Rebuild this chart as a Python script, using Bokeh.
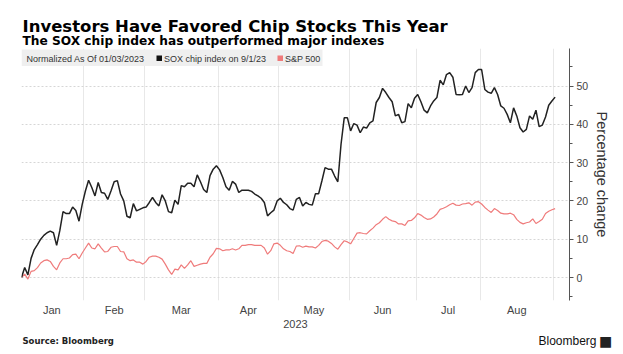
from bokeh.plotting import figure
from bokeh.layouts import column
from bokeh.models import FixedTicker, SingleIntervalTicker, Label, BoxAnnotation, Range1d
from bokeh.embed import file_html
from bokeh.resources import INLINE

# ---------------- data ----------------
months = ["Jan", "Feb", "Mar", "Apr", "May", "Jun", "Jul", "Aug"]
# index (trading day since 01/03/2023) of first trading day of each month, last = Sep 1
month_start_idx = [0, 20, 39, 62, 81, 103, 124, 144, 167]
year_label = "2023"

sox = [0.0, 2.6, 0.7, 5.0, 7.3, 8.6, 10.0, 11.0, 11.7, 12.1,
       11.7, 8.4, 12.3, 17.2, 16.7, 16.7, 18.4, 17.5, 14.7, 19.1,
       22.6, 25.4, 23.5, 21.3, 24.8, 22.2, 22.0, 20.4, 22.6, 25.0,
       25.3, 21.8, 20.0, 16.0, 15.6, 19.3, 17.4, 17.8, 18.2, 18.4,
       19.6, 20.9, 19.6, 18.7, 21.6, 20.0, 17.2, 16.9, 20.2, 19.1,
       24.0, 23.7, 24.6, 24.6, 23.7, 26.8, 25.0, 23.0, 22.2, 26.6,
       28.3, 29.2, 28.1, 26.1, 23.7, 22.8, 25.1, 24.4, 22.2, 22.8,
       22.8, 22.8, 22.5, 21.8, 21.3, 20.7, 19.6, 16.1, 16.9, 17.6,
       20.0, 20.7, 19.6, 19.0, 18.0, 17.6, 20.4, 20.9, 18.7, 19.6,
       19.1, 18.9, 21.9, 21.9, 25.2, 28.7, 28.3, 28.3, 26.5, 25.0,
       34.8, 41.7, 41.7, 38.3, 40.2, 39.8, 37.8, 39.3, 39.0, 40.4,
       40.9, 45.7, 47.0, 49.4, 48.3, 47.0, 45.9, 42.2, 42.6, 40.4,
       40.7, 45.4, 44.3, 46.8, 47.8, 45.9, 43.7, 43.0, 44.8, 46.1,
       47.0, 51.5, 50.3, 53.0, 53.5, 52.3, 47.8, 47.7, 47.8, 50.0,
       48.3, 49.6, 53.5, 54.3, 54.3, 49.1, 48.4, 48.1, 49.6, 47.8,
       44.8, 44.2, 42.6, 40.4, 44.3, 42.2, 39.1, 38.0, 38.7, 42.2,
       41.3, 43.7, 39.4, 39.8, 41.9, 45.0, 46.1, 47.1]

spx = [0.0, 0.9, -0.4, 1.6, 1.8, 2.6, 3.8, 4.4, 4.6, 4.2,
       2.9, 2.0, 3.8, 4.9, 4.9, 5.1, 6.0, 6.1, 4.9, 6.4,
       7.7, 9.0, 7.7, 7.5, 8.8, 7.7, 6.7, 6.8, 7.9, 8.1,
       8.1, 6.8, 6.7, 4.9, 4.4, 4.6, 4.0, 4.0, 3.5, 4.2,
       5.3, 5.6, 5.6, 5.3, 4.8, 3.5, 2.0, 0.8, 2.2, 2.0,
       3.3, 2.4, 3.3, 4.4, 2.9, 3.2, 3.5, 3.7, 3.7, 5.3,
       6.2, 7.6, 7.5, 7.0, 7.2, 7.2, 7.5, 7.2, 7.5, 8.4,
       8.4, 8.6, 8.6, 8.4, 8.4, 8.4, 7.7, 6.1, 7.0, 8.8,
       9.0, 8.4, 7.5, 7.0, 6.8, 6.3, 8.2, 8.3, 7.9, 8.2,
       8.0, 8.0, 7.7, 8.4, 9.4, 9.7, 9.5, 8.9, 8.0, 7.4,
       8.6, 9.6, 9.3, 8.8, 10.2, 11.6, 11.7, 11.5, 11.4, 12.2,
       12.9, 13.8, 14.3, 15.2, 15.9, 15.2, 14.8, 14.6, 14.0, 14.0,
       13.6, 14.8, 14.9, 15.6, 16.7, 16.3, 15.7, 15.2, 15.3, 15.8,
       16.6, 17.8, 18.1, 18.5, 19.0, 19.4, 18.9, 18.8, 19.2, 19.3,
       19.5, 18.9, 19.7, 19.8, 19.2, 18.3, 17.6, 17.0, 18.0, 17.5,
       16.8, 16.6, 16.6, 16.8, 16.4, 15.2, 14.4, 14.0, 14.3, 14.5,
       15.3, 14.1, 14.6, 15.2, 16.7, 17.3, 17.7, 18.0]

days = list(range(len(sox)))

title_text = "Investors Have Favored Chip Stocks This Year"
subtitle_text = "The SOX chip index has outperformed major indexes"
legend_note = "Normalized As Of 01/03/2023"
series_names = ["SOX chip index on 9/1/23", "S&P 500"]
source_text = "Source: Bloomberg"
brand_text = "Bloomberg"

# ---------------- layout ----------------
W = 623
HEAD_H = 48          # header strip
MAIN_H = 284         # main chart (frame 252 px + 32 px bottom axis)
FOOT_H = 22          # footer strip
FL, FR = 21, 569     # frame edges (px)
FT, FB = 0, 252      # frame top/bottom inside main figure
X0, X1 = 0.0, 171.5
Y0, Y1 = -6.0, 59.8

def xd(px):
    return X0 + (px - FL) / (FR - FL) * (X1 - X0)

def yd(py_canvas):   # canvas px (whole page) -> data y
    py = py_canvas - HEAD_H
    return Y1 - (py - FT) / (FB - FT) * (Y1 - Y0)


def strip(h):
    f = figure(width=W, height=h, output_backend="svg", toolbar_location=None,
               x_range=Range1d(0, W), y_range=Range1d(h, 0),
               x_axis_location=None, y_axis_location=None,
               min_border=0, min_border_left=0, min_border_right=0,
               min_border_top=0, min_border_bottom=0, frame_align=False)
    f.grid.visible = False
    f.outline_line_color = None
    return f


def lab(fig, text, x, y, size, font="Liberation Sans", style="normal", color="#333333",
        align="left", baseline="middle"):
    fig.add_layout(Label(x=x, y=y, text=text, text_font=font, text_font_size=size,
                         text_font_style=style, text_color=color, text_align=align,
                         text_baseline=baseline))

# header
head = strip(HEAD_H)
lab(head, title_text, 22, 25.5, "16.5px", font="DejaVu Sans", style="bold", color="#000000",
    baseline="alphabetic")
lab(head, subtitle_text, 22, 40.5, "12.2px", font="DejaVu Sans", style="bold", color="#000000",
    baseline="alphabetic")

# main
p = figure(width=W, height=MAIN_H, output_backend="svg", toolbar_location=None,
           x_range=Range1d(X0, X1), y_range=Range1d(Y0, Y1),
           y_axis_location="right", frame_align=False,
           min_border_left=FL, min_border_right=W - FR,
           min_border_top=FT, min_border_bottom=MAIN_H - FB)
p.outline_line_color = None

bounds = [s - 0.5 for s in month_start_idx]
mids = [(bounds[i] + bounds[i + 1]) / 2 for i in range(len(months))]
p.xgrid.ticker = FixedTicker(ticks=bounds)
p.xgrid.grid_line_color = "#e8e8e8"
p.ygrid.grid_line_color = "#d6d6d6"
p.ygrid.grid_line_dash = "2 2"

p.xaxis.ticker = FixedTicker(ticks=mids)
p.xaxis.major_label_overrides = {m: name for m, name in zip(mids, months)}
p.xaxis.axis_line_color = None
p.xaxis.major_tick_line_color = None
p.xaxis.minor_tick_line_color = None
p.xaxis.major_tick_out = 0
p.xaxis.major_tick_in = 0
p.xaxis.minor_tick_out = 0
p.xaxis.minor_tick_in = 0
p.xaxis.major_label_text_font = "Liberation Sans"
p.xaxis.major_label_text_font_size = "11px"
p.xaxis.major_label_text_color = "#444444"
p.xaxis.major_label_standoff = 3
p.xaxis.axis_label = year_label
p.xaxis.axis_label_text_font = "Liberation Sans"
p.xaxis.axis_label_text_font_size = "11px"
p.xaxis.axis_label_text_font_style = "normal"
p.xaxis.axis_label_text_color = "#444444"
p.xaxis.axis_label_standoff = 1

p.yaxis.ticker = SingleIntervalTicker(interval=10, num_minor_ticks=2)
p.yaxis.axis_line_color = "#555555"
p.yaxis.major_tick_line_color = "#555555"
p.yaxis.minor_tick_line_color = "#555555"
p.yaxis.major_tick_in = 0
p.yaxis.major_tick_out = 4
p.yaxis.minor_tick_in = 0
p.yaxis.minor_tick_out = 3
p.yaxis.major_label_text_font = "Liberation Sans"
p.yaxis.major_label_text_font_size = "10.5px"
p.yaxis.major_label_text_color = "#444444"
p.yaxis.major_label_standoff = 3
p.yaxis.axis_label = "Percentage change"
p.yaxis.axis_label_text_font = "Liberation Sans"
p.yaxis.axis_label_text_font_size = "14.5px"
p.yaxis.axis_label_text_font_style = "normal"
p.yaxis.axis_label_text_color = "#333333"
p.yaxis.axis_label_standoff = 3

p.line(days, spx, line_color="#ef7b7b", line_width=1.2)
p.line(days, sox, line_color="#222222", line_width=1.5)

# legend strip (inside frame)
p.add_layout(BoxAnnotation(left=xd(21), right=xd(322), top=yd(49), bottom=yd(65.5),
                           fill_color="#efefef", fill_alpha=1.0, line_color=None))
p.add_layout(BoxAnnotation(left=xd(156), right=xd(161.5), top=yd(55), bottom=yd(60.5),
                           fill_color="#111111", fill_alpha=1.0, line_color=None))
p.add_layout(BoxAnnotation(left=xd(277), right=xd(282.5), top=yd(55), bottom=yd(60.5),
                           fill_color="#f07a7a", fill_alpha=1.0, line_color=None))
for txt, px in [(legend_note, 26), (series_names[0], 163.5), (series_names[1], 284.5)]:
    lab(p, txt, xd(px), yd(58), "9px")

# footer (canvas y 332..354)
foot = strip(FOOT_H)
lab(foot, source_text, 22, 8.5, "8.5px", font="DejaVu Sans", style="bold", color="#222222")
lab(foot, brand_text, 596, 8.5, "12px", color="#111111", align="right")
lab(foot, "\u25A0", 605, 8.5, "14px", font="DejaVu Sans", color="#222222", align="center")

layout = column(head, p, foot, spacing=0)
open("out.html", "w").write(file_html(layout, INLINE))
